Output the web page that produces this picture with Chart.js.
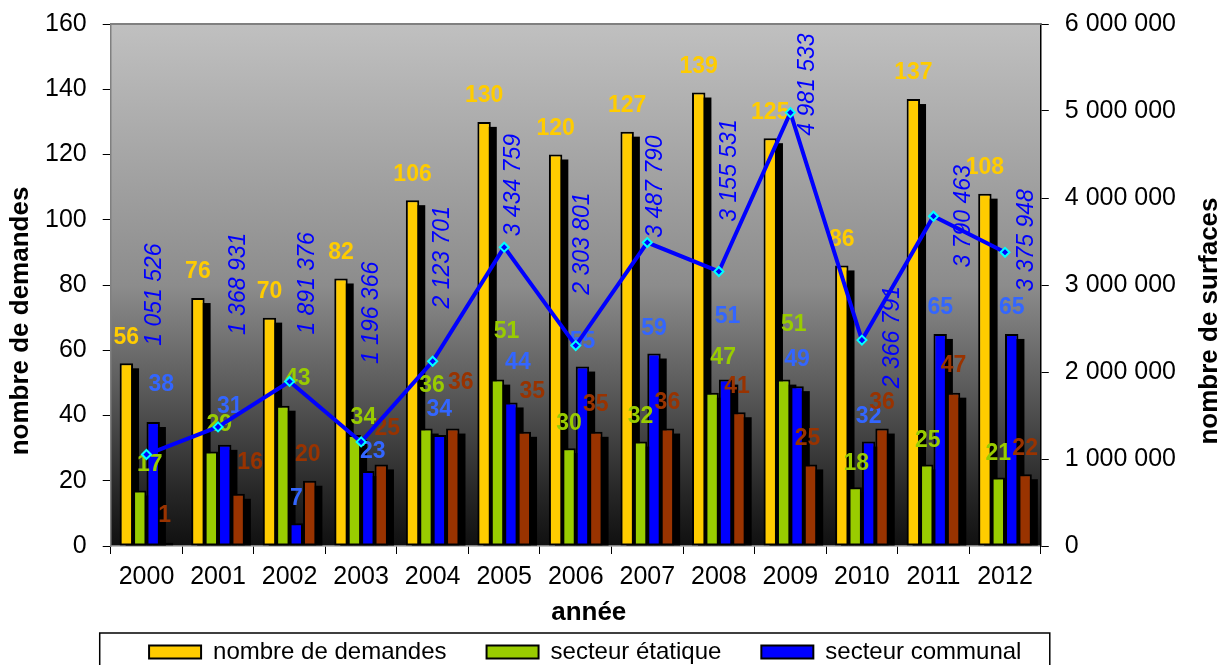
<!DOCTYPE html>
<html>
<head>
<meta charset="utf-8">
<script src="https://cdn.jsdelivr.net/npm/chart.js@4.4.1/dist/chart.umd.min.js"></script>
<style>
html, body { margin:0; padding:0; background:#fff; overflow:hidden; }
</style>
</head>
<body>
<canvas id="chart" width="1221" height="674"></canvas>
<script>
var years = ["2000","2001","2002","2003","2004","2005","2006","2007","2008","2009","2010","2011","2012"];
var demandes = [56, 76, 70, 82, 106, 130, 120, 127, 139, 125, 86, 137, 108];
var etatique = [17, 29, 43, 34, 36, 51, 30, 32, 47, 51, 18, 25, 21];
var communal = [38, 31, 7, 23, 34, 44, 55, 59, 51, 49, 32, 65, 65];
var prive = [1, 16, 20, 25, 36, 35, 35, 36, 41, 25, 36, 47, 22];
var surfaces = [1051526, 1368931, 1891376, 1196366, 2123701, 3434759, 2303801, 3487790, 3155531, 4981533, 2366791, 3790463, 3375948];

var leftMax = 160, leftStep = 20;
var rightMax = 6000000, rightStep = 1000000;

// where the labels sit, [dx, lift above bar top]
var nudgeBars = [
  [[0,26],[0,26],[0,26],[0,26],[0,26],[0,26],[0,26],[0,26],[0,26],[0,26],[0,26],[0,26],[0,26]],
  [[10,26],[8,27],[15,27],[9,17],[6,43],[9,48],[0,24],[0,25],[11,35],[10,55],[1,24],[1,24],[0,24]],
  [[8,37],[5,38],[0,25],[5,19],[0,25],[7,40],[0,25],[0,25],[2,63],[0,26],[0,25],[0,26],[0,26]],
  [[-2,27],[12,31],[-2,26],[6,36],[8,46],[8,40],[0,27],[0,26],[-2,26],[-3,26],[0,26],[0,27],[0,26]]
];
// surfaces labels, [dx, dy] of text centre from the point
var nudgeLine = [[8,-160],[21,-143],[18,-98],[10,-129],[10,-104],[9,-62],[7,-102],[8,-56],[11,-101],[17,-28],[31,-3],[30,0],[22,-12]];

var barColors = ["#FFCC00", "#99CC00", "#0000FF", "#993300"];
var labelColors = ["#FFCC00", "#99CC00", "#3366FF", "#993300"];

function spaced(v) {
  return String(v).replace(/\B(?=(\d{3})+(?!\d))/g, " ");
}

Chart.defaults.font.family = "'Liberation Sans', Arial, sans-serif";
Chart.defaults.color = "#000";

var excelLook = {
  id: "excelLook",
  afterLayout: function(chart) {
    // legend is centred under the plot, not on the canvas
    var a = chart.chartArea;
    chart.legend.left = a.left - 11;
    chart.legend.right = a.right + 30;
  },
  beforeDraw: function(chart) {
    var a = chart.chartArea, ctx = chart.ctx;
    var g = ctx.createLinearGradient(0, a.top, 0, a.bottom);
    g.addColorStop(0, "#c0c0c0");
    g.addColorStop(0.5, "#8c8c8c");
    g.addColorStop(0.72, "#555555");
    g.addColorStop(0.9, "#262626");
    g.addColorStop(1, "#101010");
    ctx.save();
    ctx.fillStyle = g;
    ctx.fillRect(a.left, a.top, a.right - a.left, a.bottom - a.top);
    ctx.restore();
  },
  beforeDatasetsDraw: function(chart) {
    // black drop shadow behind each bar
    var ctx = chart.ctx;
    ctx.save();
    ctx.fillStyle = "#000";
    for (var i = 0; i < 4; i++) {
      chart.getDatasetMeta(i).data.forEach(function(bar) {
        var p = bar.getProps(["x", "y", "base", "width"], true);
        var h = p.base - p.y - 5;
        if (h > 0) ctx.fillRect(p.x - p.width / 2 + 6, p.y + 5, p.width, h);
      });
    }
    ctx.restore();
  },
  beforeDatasetDraw: function(chart, args) {
    if (args.index !== 4) return;
    var ctx = chart.ctx;
    ctx.save();
    ctx.textAlign = "center";
    ctx.textBaseline = "middle";
    ctx.font = "bold 23px 'Liberation Sans', Arial, sans-serif";
    for (var i = 0; i < 4; i++) {
      var vals = chart.data.datasets[i].data;
      ctx.fillStyle = labelColors[i];
      chart.getDatasetMeta(i).data.forEach(function(bar, j) {
        var n = nudgeBars[i][j];
        ctx.fillText(vals[j], bar.x + n[0], bar.y - n[1]);
      });
    }
    ctx.font = "italic 23px 'Liberation Sans', Arial, sans-serif";
    ctx.fillStyle = "#0000FF";
    args.meta.data.forEach(function(pt, j) {
      var n = nudgeLine[j];
      ctx.save();
      ctx.translate(pt.x + n[0], pt.y + n[1]);
      ctx.rotate(-Math.PI / 2);
      ctx.fillText(spaced(surfaces[j]), 0, 0);
      ctx.restore();
    });
    ctx.restore();
  },
  afterDraw: function(chart) {
    var a = chart.chartArea, ctx = chart.ctx, lg = chart.legend;
    ctx.save();
    ctx.strokeStyle = "#808080";
    ctx.lineWidth = 2;
    ctx.beginPath();
    ctx.moveTo(a.left, a.top);
    ctx.lineTo(a.right, a.top);
    ctx.stroke();
    // legend frame
    var pad = lg.options.labels.padding;
    ctx.strokeStyle = "#000";
    ctx.lineWidth = 1.5;
    ctx.strokeRect(a.left - 11, lg.top + pad - 7, a.right - a.left + 20, 200);
    ctx.fillStyle = "#000";
    ctx.textAlign = "center";
    ctx.textBaseline = "middle";
    ctx.font = "bold 26px 'Liberation Sans', Arial, sans-serif";
    ctx.fillText("année", (a.left + a.right) / 2 + 13, 613);
    // axis titles, both reading upward
    ctx.translate(21, 321);
    ctx.rotate(-Math.PI / 2);
    ctx.fillText("nombre de demandes", 0, 0);
    ctx.restore();
    ctx.save();
    ctx.font = "bold 26px 'Liberation Sans', Arial, sans-serif";
    ctx.fillStyle = "#000";
    ctx.textAlign = "center";
    ctx.textBaseline = "middle";
    ctx.translate(chart.width - 11, 321);
    ctx.rotate(-Math.PI / 2);
    ctx.fillText("nombre de surfaces", 0, 0);
    ctx.restore();
  }
};

var ctx = document.getElementById("chart");
var chart = new Chart(ctx, {
  type: "bar",
  data: {
    labels: years,
    datasets: [
      { label: "nombre de demandes", data: demandes, backgroundColor: barColors[0] },
      { label: "secteur étatique", data: etatique, backgroundColor: barColors[1] },
      { label: "secteur communal", data: communal, backgroundColor: barColors[2] },
      { label: "secteur privé", data: prive, backgroundColor: barColors[3] },
      {
        type: "line", label: "surfaces", data: surfaces, yAxisID: "y1", order: -1,
        borderColor: "#0000FF", borderWidth: 4, tension: 0,
        pointStyle: "rectRot", pointRadius: 4.5, pointBorderColor: "#00FFFF",
        pointBackgroundColor: "#0000FF", pointBorderWidth: 2
      }
    ]
  },
  options: {
    responsive: false,
    animation: false,
    datasets: {
      bar: {
        borderColor: "#000", borderWidth: 2, borderSkipped: false,
        categoryPercentage: 0.75, barPercentage: 1, yAxisID: "y"
      }
    },
    layout: { padding: { top: 24, left: 29, right: 29, bottom: 0 } },
    scales: {
      x: {
        grid: { drawOnChartArea: false, tickLength: 8, color: "#000", offset: true },
        border: { color: "#808080", width: 1.5 },
        ticks: { font: { size: 25 }, padding: 8, maxRotation: 0, autoSkip: false }
      },
      y: {
        position: "left", min: 0, max: leftMax,
        ticks: { stepSize: leftStep, font: { size: 25, lineHeight: 0.6 }, padding: 16 },
        grid: { drawOnChartArea: false, tickLength: 8, color: "#000" },
        border: { color: "#808080", width: 1.5 }
      },
      y1: {
        position: "right", min: 0, max: rightMax,
        ticks: { stepSize: rightStep, font: { size: 25, lineHeight: 0.6 }, padding: 16, callback: function(v) { return spaced(v); } },
        grid: { drawOnChartArea: false, tickLength: 8, color: "#000" },
        border: { color: "#000", width: 1.5 }
      }
    },
    plugins: {
      tooltip: { enabled: false },
      legend: {
        position: "bottom",
        labels: {
          boxWidth: 52, boxHeight: 13, padding: 40, font: { size: 24 },
          filter: function(item) { return item.datasetIndex < 3; }
        }
      }
    }
  },
  plugins: [excelLook]
});
</script>
</body>
</html>
